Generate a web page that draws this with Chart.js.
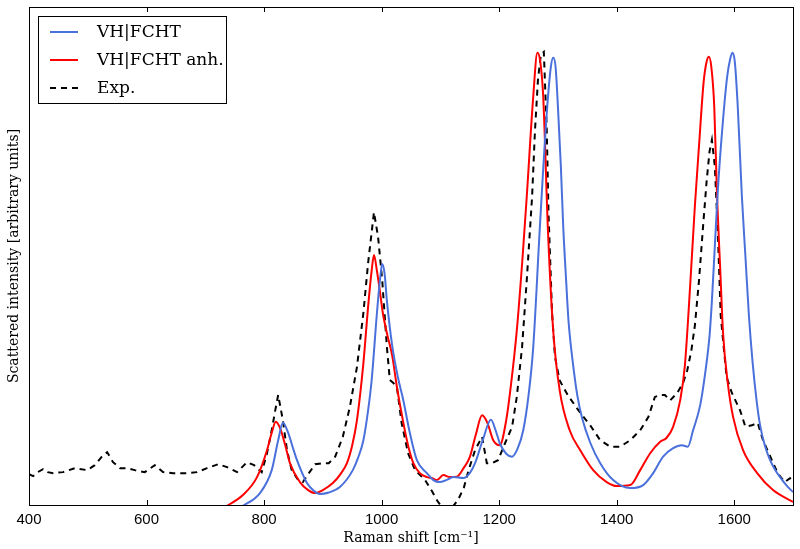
<!DOCTYPE html>
<html>
<head>
<meta charset="utf-8">
<script src="https://cdn.jsdelivr.net/npm/chart.js@4/dist/chart.umd.min.js"></script>
<style>
html,body{margin:0;padding:0;background:#fff;}
#wrap{width:800px;height:549px;position:relative;}
canvas{display:block;}
</style>
</head>
<body>
<div id="wrap"><canvas id="c" width="800" height="549"></canvas></div>
<script>
// ---- data ----
const xTickValues = [400, 600, 800, 1000, 1200, 1400, 1600];
const seriesNames = ['VH|FCHT', 'VH|FCHT anh.', 'Exp.'];

const blueShift = [745,766,793,813,824,832,841,849,856,873,
  885,895,910,929,951,960,969,977,983,992,
  997,1001,1005,1009,1018,1028,1037,1048,1060,1077,
  1088,1099,1110,1122,1139,1150,1159,1172,1186,1194,
  1201,1212,1222,1232,1241,1250,1258,1269,1281,1288,
  1292,1296,1300,1305,1309,1314,1318,1326,1333,1341,1355,1372,
  1394,1423,1445,1462,1479,1496,1511,1521,1530,1542,
  1550,1558,1562,1567,1572,1580,1588,1593,1597,1601,
  1606,1613,1619,1625,1631,1638,1644,1652,1661,1670,
  1678,1690,1700];
const blueIntensity = [-0.012,0,0.024,0.07,0.13,0.165,0.145,0.115,0.09,0.044,
  0.028,0.022,0.025,0.036,0.07,0.095,0.13,0.19,0.25,0.385,
  0.45,0.484,0.465,0.41,0.32,0.255,0.21,0.145,0.09,0.064,
  0.05,0.046,0.05,0.056,0.054,0.064,0.084,0.13,0.171,0.15,
  0.124,0.103,0.097,0.115,0.15,0.22,0.317,0.552,0.787,0.88,
  0.898,0.88,0.8,0.68,0.56,0.45,0.37,0.28,0.22,0.175,0.125,0.084,
  0.05,0.034,0.04,0.064,0.097,0.114,0.12,0.117,0.15,0.2,
  0.26,0.34,0.41,0.52,0.63,0.76,0.86,0.895,0.908,0.89,
  0.8,0.62,0.5,0.38,0.29,0.21,0.16,0.12,0.09,0.07,
  0.056,0.038,0.026];

const redShift = [720,739,764,788,805,813,820,828,836,844,
  861,875,887,900,917,930,941,950,958,969,
  977,983,987,992,997,1002,1010,1018,1026,1037,
  1046,1054,1065,1077,1086,1094,1105,1116,1128,1140,
  1150,1160,1171,1180,1190,1201,1212,1220,1230,1240,
  1247,1258,1265,1270,1275,1283,1292,1303,1320,1338,
  1360,1383,1400,1423,1440,1457,1474,1485,1496,1508,
  1516,1525,1533,1540,1548,1553,1557,1561,1566,1571,
  1576,1581,1589,1598,1615,1639,1666,1700];
const redIntensity = [-0.012,0,0.02,0.056,0.11,0.145,0.167,0.152,0.12,0.084,
  0.046,0.03,0.024,0.03,0.044,0.062,0.084,0.12,0.17,0.285,
  0.398,0.47,0.502,0.47,0.43,0.386,0.34,0.30,0.237,0.165,
  0.115,0.084,0.064,0.056,0.054,0.05,0.06,0.056,0.057,0.075,
  0.096,0.14,0.18,0.165,0.13,0.12,0.17,0.24,0.35,0.50,
  0.62,0.82,0.908,0.89,0.82,0.552,0.35,0.23,0.15,0.11,
  0.07,0.046,0.038,0.04,0.07,0.104,0.127,0.135,0.157,0.21,
  0.28,0.44,0.6,0.72,0.85,0.89,0.90,0.88,0.8,0.612,
  0.478,0.345,0.245,0.177,0.11,0.064,0.03,0.006];

const expShift = [400,407,415,424,432,441,458,478,499,512,
  524,533,543,555,567,580,597,614,628,645,
  669,686,703,722,737,754,771,783,796,805,
  813,819,824,832,839,847,858,866,875,887,
  900,910,921,934,946,958,969,977,987,994,
  1001,1009,1014,1020,1026,1034,1045,1057,1074,1086,
  1095,1105,1118,1130,1140,1148,1159,1171,1179,1188,
  1198,1210,1222,1230,1239,1247,1256,1261,1266,1271,
  1276,1281,1284,1290,1295,1303,1317,1338,1355,1372,
  1389,1406,1423,1440,1454,1465,1474,1482,1491,1503,
  1513,1520,1527,1533,1540,1547,1553,1558,1562,1567,
  1572,1577,1587,1596,1610,1619,1630,1640,1649,1664,
  1674,1686,1695,1700];
const expIntensity = [0.062,0.058,0.066,0.072,0.066,0.064,0.066,0.074,0.07,0.08,
  0.097,0.106,0.086,0.074,0.074,0.07,0.066,0.08,0.066,0.064,
  0.064,0.066,0.074,0.082,0.076,0.066,0.086,0.08,0.066,0.104,
  0.15,0.19,0.221,0.17,0.11,0.07,0.05,0.046,0.062,0.082,
  0.084,0.084,0.097,0.137,0.197,0.277,0.386,0.486,0.588,0.538,
  0.452,0.317,0.251,0.245,0.237,0.165,0.104,0.07,0.05,0.027,
  0.008,-0.008,-0.008,0.01,0.035,0.07,0.11,0.137,0.084,0.084,
  0.09,0.124,0.157,0.217,0.317,0.452,0.618,0.753,0.853,0.905,
  0.91,0.753,0.586,0.386,0.297,0.25,0.22,0.185,0.16,0.13,
  0.117,0.117,0.13,0.15,0.177,0.217,0.221,0.221,0.21,0.225,
  0.245,0.27,0.31,0.36,0.45,0.56,0.65,0.71,0.733,0.68,
  0.55,0.38,0.257,0.225,0.19,0.157,0.16,0.165,0.13,0.09,
  0.064,0.046,0.054,0.05];

// ---- helpers ----
const toPoints = (xs, ys) => xs.map((x, i) => ({x: x, y: ys[i]}));
const serif = "'DejaVu Serif', 'Liberation Serif', serif";

const framePlugin = {
  id: 'frameTicks',
  afterDatasetsDraw(chart) {
    const {ctx, chartArea: ca, scales: {x}} = chart;
    ctx.save();
    ctx.strokeStyle = '#000';
    ctx.lineWidth = 1;
    ctx.setLineDash([]);
    ctx.strokeRect(ca.left + 0.5, ca.top + 0.5, ca.right - ca.left, ca.bottom - ca.top);
    ctx.beginPath();
    xTickValues.forEach(v => {
      const px = Math.round(x.getPixelForValue(v)) + 0.5;
      ctx.moveTo(px, ca.bottom);
      ctx.lineTo(px, ca.bottom - 5);
      ctx.moveTo(px, ca.top);
      ctx.lineTo(px, ca.top + 5);
    });
    ctx.stroke();
    ctx.restore();
  }
};

const legendPlugin = {
  id: 'boxLegend',
  afterDraw(chart) {
    const {ctx, chartArea: ca} = chart;
    const x0 = ca.left + 9, y0 = ca.top + 9, w = 188, h = 87;
    ctx.save();
    ctx.fillStyle = '#fff';
    ctx.fillRect(x0, y0, w, h);
    ctx.strokeStyle = '#000';
    ctx.lineWidth = 1;
    ctx.strokeRect(x0 + 0.5, y0 + 0.5, w, h);
    chart.data.datasets.forEach((ds, i) => {
      const cy = y0 + 16 + i * 28;
      ctx.strokeStyle = ds.borderColor;
      ctx.lineWidth = ds.borderWidth;
      ctx.setLineDash(ds.borderDash || []);
      ctx.beginPath();
      ctx.moveTo(x0 + 12, cy);
      ctx.lineTo(x0 + 40, cy);
      ctx.stroke();
      ctx.setLineDash([]);
      ctx.fillStyle = '#000';
      ctx.font = "17px " + serif;
      ctx.textBaseline = 'middle';
      ctx.textAlign = 'left';
      ctx.fillText(ds.label, x0 + 59, cy + 1);
    });
    ctx.restore();
  }
};

new Chart(document.getElementById('c'), {
  type: 'line',
  data: {
    datasets: [
      {label: seriesNames[0], data: toPoints(blueShift, blueIntensity), borderColor: '#4a70dc',
       borderWidth: 2, pointRadius: 0, cubicInterpolationMode: 'monotone', fill: false, clip: 0},
      {label: seriesNames[1], data: toPoints(redShift, redIntensity), borderColor: '#ff0000',
       borderWidth: 2, pointRadius: 0, cubicInterpolationMode: 'monotone', fill: false, clip: 0},
      {label: seriesNames[2], data: toPoints(expShift, expIntensity), borderColor: '#000000',
       borderWidth: 2, borderDash: [6, 5], pointRadius: 0, tension: 0, fill: false, clip: 0}
    ]
  },
  options: {
    responsive: false,
    animation: false,
    devicePixelRatio: 1,
    layout: {padding: {left: 0, right: 7, top: 7, bottom: 0}},
    plugins: {legend: {display: false}, tooltip: {enabled: false}},
    scales: {
      x: {
        type: 'linear', min: 400, max: 1700,
        afterBuildTicks: s => { s.ticks = xTickValues.map(v => ({value: v})); },
        afterFit: s => { s.height = 44; },
        grid: {display: false},
        border: {display: false},
        ticks: {color: '#000', padding: -2, maxRotation: 0, autoSkip: false,
                font: {family: "'Liberation Sans', Arial, sans-serif", size: 15},
                callback: v => String(v)},
        title: {display: true, text: 'Raman shift [cm\u207B\u00B9]', color: '#000',
                font: {family: serif, size: 14}, padding: {top: 0, bottom: 2}}
      },
      y: {
        min: 0, max: 1,
        afterFit: s => { s.width = 29; },
        grid: {display: false},
        border: {display: false},
        ticks: {display: false},
        title: {display: true, text: 'Scattered intensity [arbitrary units]', color: '#000',
                font: {family: serif, size: 14}, padding: {top: 6, bottom: 0}}
      }
    }
  },
  plugins: [framePlugin, legendPlugin]
});
</script>
</body>
</html>
